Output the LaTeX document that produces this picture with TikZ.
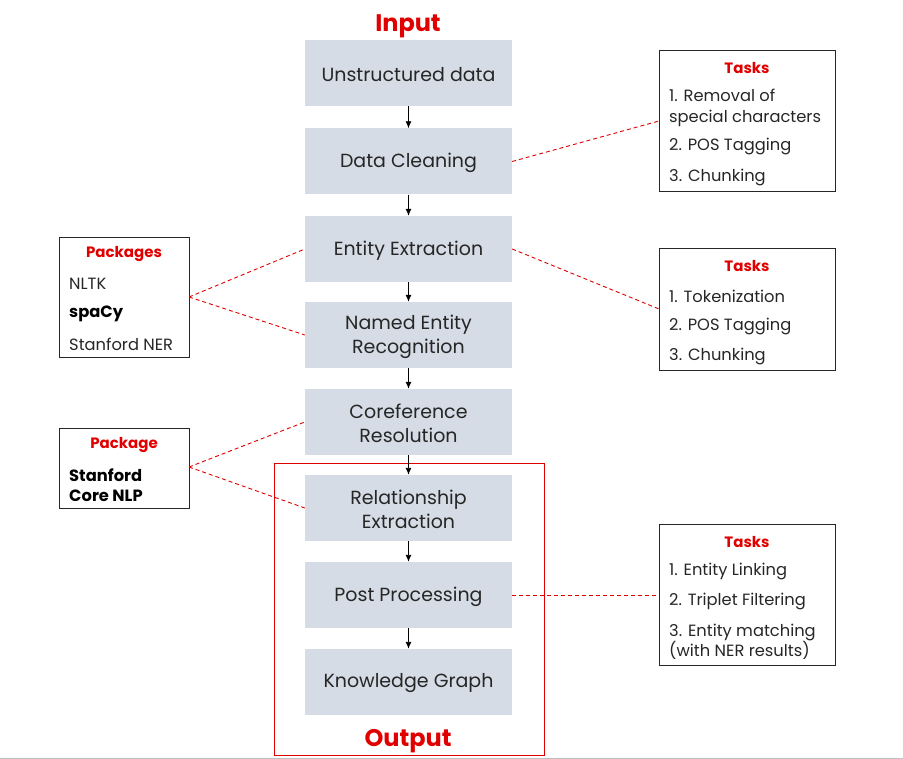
\documentclass[tikz,border=0pt]{standalone}
\usepackage{fontspec}
\setmainfont{Poppins}
\usetikzlibrary{arrows.meta}
\definecolor{boxfill}{HTML}{D6DCE5}
\definecolor{myred}{HTML}{E00000}
\tikzset{
  stepbox/.style={fill=boxfill, minimum width=207pt, minimum height=66pt, inner sep=0pt},
  steptext/.style={align=center, font=\fontsize{19}{24}\selectfont, text=black!85, inner sep=0pt},
  flow/.style={-{Latex[length=7pt,width=6pt]}, line width=0.9pt, black},
  sidebox/.style={draw=black!85, line width=1.2pt, inner sep=0pt, anchor=north west},
  head/.style={text=myred, font=\fontsize{15}{18}\bfseries\selectfont, anchor=center},
  item/.style={anchor=west, align=left, font=\fontsize{16.3}{20.5}\selectfont, text=black!85, inner sep=0pt},
  bolditem/.style={item, font=\fontsize{16.3}{20.5}\bfseries\selectfont, text=black},
  link/.style={myred, line width=0.9pt, dash pattern=on 4pt off 3pt},
  title/.style={text=myred, font=\fontsize{24}{28}\bfseries\selectfont, anchor=base}
}
\begin{document}
\begin{tikzpicture}[x=1pt,y=-1pt]
\useasboundingbox (0,0) rectangle (903,759);
\draw[black!25, line width=1.2pt] (0,758.4) -- (903,758.4);
% output frame
\node[draw=myred, line width=0.9pt, minimum width=270pt, minimum height=292pt, inner sep=0pt] (frame) at (409,609) {};
\node[title] (input) at (408,32) {Input};
\node[title] (output) at (408,746) {Output};
% main steps
\foreach \n/\y/\t in {s1/73/Unstructured data, s2/161.5/Data Cleaning, s3/249/Entity Extraction,
  s4/335/Named Entity\\Recognition, s5/422/Coreference\\Resolution, s6/508/Relationship\\Extraction,
  s7/595/Post Processing, s8/682/Knowledge Graph}{
  \node[stepbox] (\n) at (408.5,\y) {};
  \node[steptext] (\n t) at (408.5,\y+1.5) {\t};
}
\foreach \a/\b in {s1/s2,s2/s3,s3/s4,s4/s5,s5/s6,s6/s7,s7/s8}
  \draw[flow] (\a.south) -- (\b.north);
% tasks box 1
\node[sidebox, minimum width=176pt, minimum height=141pt] (t1) at (659,50) {};
\node[head] (t1h) at (747,68) {Tasks};
\node[item] (t1a) at (669,108) {1. Removal of\\special characters};
\node[item] (t1b) at (669,147) {2. POS Tagging};
\node[item] (t1c) at (669,178) {3. Chunking};
% tasks box 2
\node[sidebox, minimum width=176pt, minimum height=122pt] (t2) at (659,248) {};
\node[head] (t2h) at (747,266) {Tasks};
\node[item] (t2a) at (669,296) {1. Tokenization};
\node[item] (t2b) at (669,326) {2. POS Tagging};
\node[item] (t2c) at (669,356) {3. Chunking};
% tasks box 3
\node[sidebox, minimum width=176pt, minimum height=141pt] (t3) at (659,524) {};
\node[head] (t3h) at (747,542) {Tasks};
\node[item] (t3a) at (669,571) {1. Entity Linking};
\node[item] (t3b) at (669,601) {2. Triplet Filtering};
\node[item] (t3c) at (669,642) {3. Entity matching\\(with NER results)};
% packages
\node[sidebox, minimum width=130pt, minimum height=120pt] (p1) at (59,237) {};
\node[head] (p1h) at (124,254) {Packages};
\node[item] (p1a) at (69,284) {NLTK};
\node[bolditem] (p1b) at (69,314) {spaCy};
\node[item] (p1c) at (69,344) {Stanford NER};
\node[sidebox, minimum width=130pt, minimum height=80pt] (p2) at (59,428) {};
\node[head] (p2h) at (124,445) {Package};
\node[bolditem] (p2a) at (69,485) {Stanford\\Core NLP};
% links
\coordinate (c1) at (659,121);
\coordinate (c2) at (659,309);
\draw[link] (s2.east) -- (c1);
\draw[link] (s3.east) -- (c2);
\draw[link] ([yshift=-0.5pt]s7.east) -- ([yshift=-0.5pt]t3.west |- s7.east);
\coordinate (pa) at (189,297);
\coordinate (pb) at (189,467);
\draw[link] (pa) -- (s3.west);
\draw[link] (pa) -- (s4.west);
\draw[link] (pb) -- (s5.west);
\draw[link] (pb) -- (s6.west);
\end{tikzpicture}
\end{document}
